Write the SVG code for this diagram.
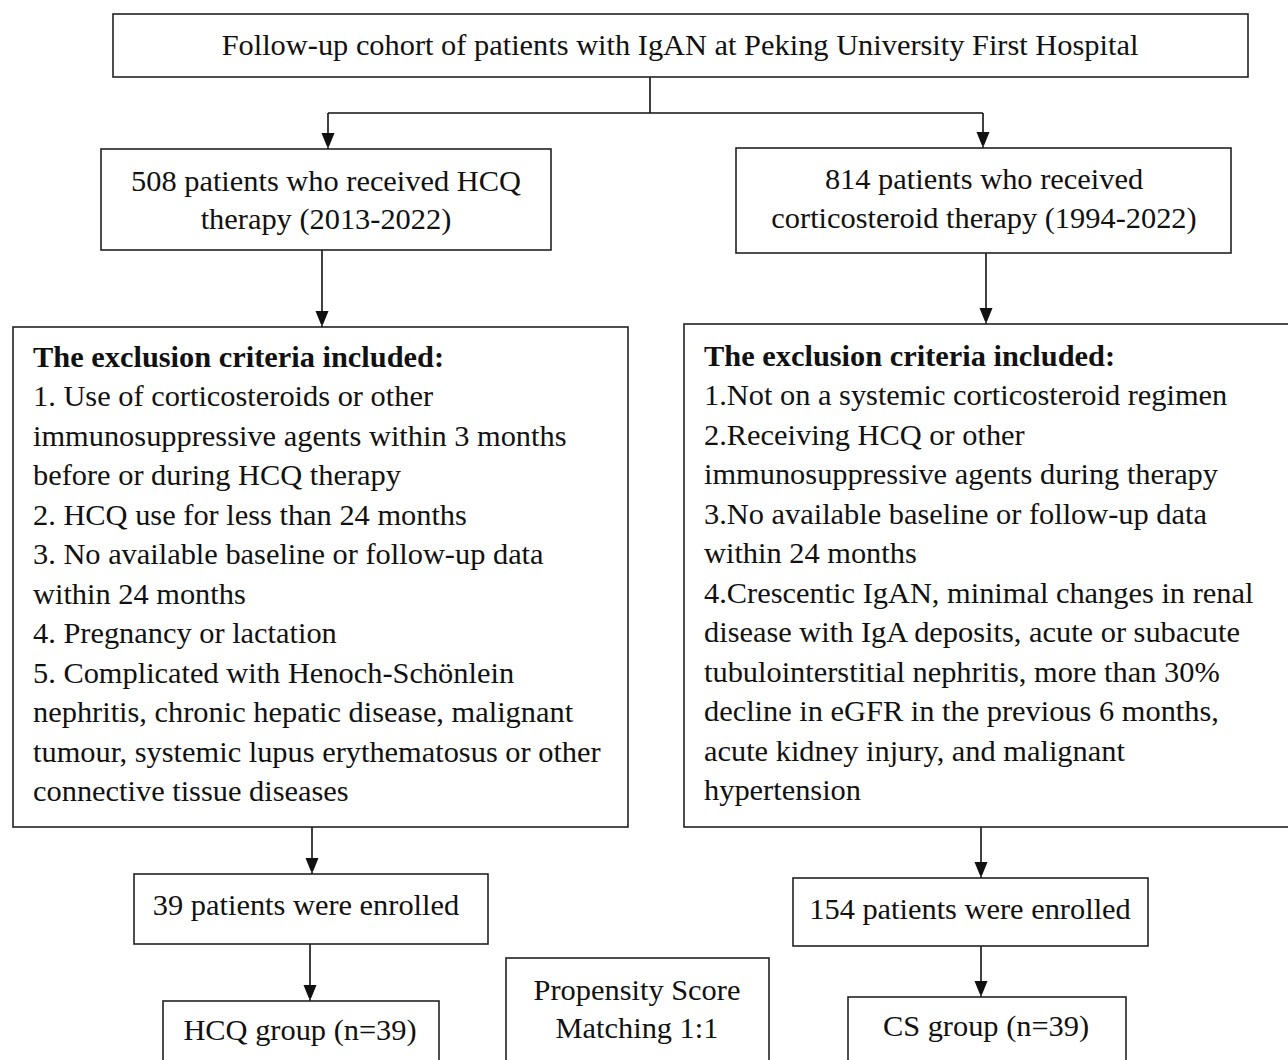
<svg xmlns="http://www.w3.org/2000/svg" width="1288" height="1060" viewBox="0 0 1288 1060">
<style>
.box{fill:#fff;stroke:#222;stroke-width:1.6}
.t{font-family:"Liberation Serif","Times New Roman",serif;font-size:30.4px;fill:#111}
.c{text-anchor:middle}
.b{font-weight:bold}
.ln{fill:none;stroke:#111;stroke-width:1.6}
</style>
<defs>
<marker id="arr" markerWidth="13" markerHeight="16" refX="16" refY="6.5" orient="auto" markerUnits="userSpaceOnUse">
<path d="M0,0 L16,6.5 L0,13 Z" fill="#111"/>
</marker>
</defs>
<rect width="1288" height="1060" fill="#fff"/>
<g id="connectors">
<path class="ln" d="M650,77 V113 M328,113 H983"/>
<path class="ln" d="M328,113 V149" marker-end="url(#arr)"/>
<path class="ln" d="M983,113 V148" marker-end="url(#arr)"/>
<path class="ln" d="M322,250 V327" marker-end="url(#arr)"/>
<path class="ln" d="M986,253 V324" marker-end="url(#arr)"/>
<path class="ln" d="M312,827 V874" marker-end="url(#arr)"/>
<path class="ln" d="M981,827 V878" marker-end="url(#arr)"/>
<path class="ln" d="M310,944 V1001" marker-end="url(#arr)"/>
<path class="ln" d="M981,946 V997" marker-end="url(#arr)"/>
</g>
<g id="cohort">
<rect class="box" x="113" y="14" width="1135" height="63"/>
<text class="t c" x="680" y="55">Follow-up cohort of patients with IgAN at Peking University First Hospital</text>
</g>
<g id="hcq">
<rect class="box" x="101" y="149" width="450" height="101"/>
<text class="t c" x="326" y="191">508 patients who received HCQ</text>
<text class="t c" x="326" y="229">therapy (2013-2022)</text>
</g>
<g id="cs">
<rect class="box" x="736" y="148" width="495" height="105"/>
<text class="t c" x="984" y="189">814 patients who received</text>
<text class="t c" x="984" y="228">corticosteroid therapy (1994-2022)</text>
</g>
<g id="excl-left">
<rect class="box" x="13" y="327" width="615" height="500"/>
<text class="t b" x="33" y="367">The exclusion criteria included:</text>
<text class="t" x="33" y="406">1. Use of corticosteroids or other</text>
<text class="t" x="33" y="446">immunosuppressive agents within 3 months</text>
<text class="t" x="33" y="485">before or during HCQ therapy</text>
<text class="t" x="33" y="525">2. HCQ use for less than 24 months</text>
<text class="t" x="33" y="564">3. No available baseline or follow-up data</text>
<text class="t" x="33" y="604">within 24 months</text>
<text class="t" x="33" y="643">4. Pregnancy or lactation</text>
<text class="t" x="33" y="683">5. Complicated with Henoch-Schönlein</text>
<text class="t" x="33" y="722">nephritis, chronic hepatic disease, malignant</text>
<text class="t" x="33" y="762">tumour, systemic lupus erythematosus or other</text>
<text class="t" x="33" y="801">connective tissue diseases</text>
</g>
<g id="excl-right">
<rect class="box" x="684" y="324" width="620" height="503"/>
<text class="t b" x="704" y="366">The exclusion criteria included:</text>
<text class="t" x="704" y="405">1.Not on a systemic corticosteroid regimen</text>
<text class="t" x="704" y="445">2.Receiving HCQ or other</text>
<text class="t" x="704" y="484">immunosuppressive agents during therapy</text>
<text class="t" x="704" y="524">3.No available baseline or follow-up data</text>
<text class="t" x="704" y="563">within 24 months</text>
<text class="t" x="704" y="603">4.Crescentic IgAN, minimal changes in renal</text>
<text class="t" x="704" y="642">disease with IgA deposits, acute or subacute</text>
<text class="t" x="704" y="682">tubulointerstitial nephritis, more than 30%</text>
<text class="t" x="704" y="721">decline in eGFR in the previous 6 months,</text>
<text class="t" x="704" y="761">acute kidney injury, and malignant</text>
<text class="t" x="704" y="800">hypertension</text>
</g>
<g id="enrolled-left">
<rect class="box" x="134" y="874" width="354" height="70"/>
<text class="t c" x="306" y="915">39 patients were enrolled</text>
</g>
<g id="enrolled-right">
<rect class="box" x="793" y="878" width="355" height="68"/>
<text class="t c" x="970" y="919">154 patients were enrolled</text>
</g>
<g id="hcq-group">
<rect class="box" x="163" y="1001" width="276" height="80"/>
<text class="t c" x="300" y="1040">HCQ group (n=39)</text>
</g>
<g id="psm">
<rect class="box" x="506" y="958" width="263" height="120"/>
<text class="t c" x="637" y="1000">Propensity Score</text>
<text class="t c" x="637" y="1038">Matching 1:1</text>
</g>
<g id="cs-group">
<rect class="box" x="848" y="997" width="278" height="85"/>
<text class="t c" x="986" y="1036">CS group (n=39)</text>
</g>
</svg>
